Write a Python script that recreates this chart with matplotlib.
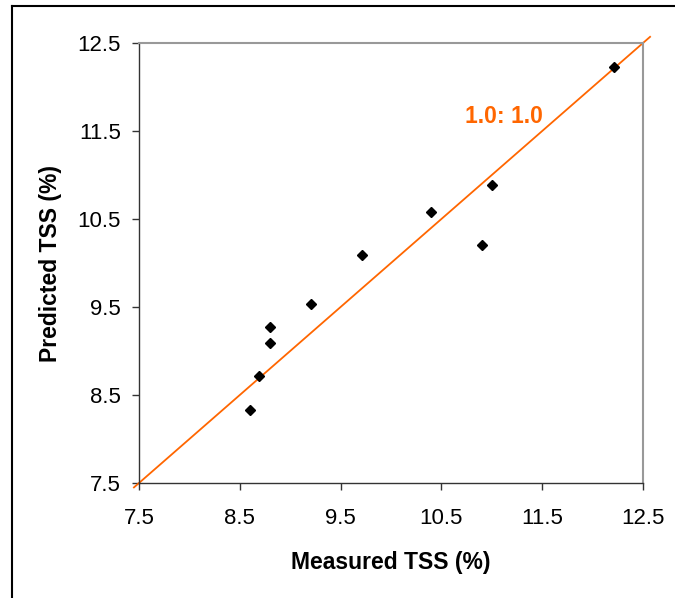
import matplotlib.pyplot as plt
from matplotlib.lines import Line2D

# measured vs predicted TSS (%)
measured = [8.60, 8.69, 8.80, 8.80, 9.21, 9.71, 10.40, 10.90, 11.00, 12.21]
predicted = [8.33, 8.72, 9.09, 9.27, 9.53, 10.09, 10.58, 10.21, 10.89, 12.23]
ticks = [7.5, 8.5, 9.5, 10.5, 11.5, 12.5]
ref_line = [7.45, 12.57]

plt.rcParams['font.family'] = ['Liberation Sans', 'DejaVu Sans']

fig = plt.figure(figsize=(6.75, 5.98), dpi=100)
ax = fig.add_axes([0.2059, 0.1923, 0.7467, 0.7358])

ax.plot(ref_line, ref_line, color='#ff6600', lw=1.3, clip_on=False, zorder=2)
ax.plot(measured, predicted, linestyle='None', marker='D', markersize=5.5,
        color='black', zorder=3)

ax.text(10.73, 11.66, '1.0: 1.0', color='#ff6600', fontsize=16.5,
        fontweight='bold', ha='left', va='center')

ax.set_xlim(7.5, 12.5)
ax.set_ylim(7.5, 12.5)
ax.set_xticks(ticks)
ax.set_yticks(ticks)
ax.set_xticklabels([f'{t:.1f}' for t in ticks])
ax.set_yticklabels([f'{t:.1f}' for t in ticks])
ax.tick_params(axis='both', direction='out', length=5, width=1,
               color='#333333', labelsize=16)
ax.tick_params(axis='x', pad=13)
ax.tick_params(axis='y', pad=8)

for side in ('left', 'bottom'):
    ax.spines[side].set_color('#333333')
    ax.spines[side].set_linewidth(1.0)
for side in ('top', 'right'):
    ax.spines[side].set_color('#999999')
    ax.spines[side].set_linewidth(1.5)

ax.set_xlabel('Measured TSS (%)', fontsize=16.5, fontweight='bold', labelpad=16)
ax.set_ylabel('Predicted TSS (%)', fontsize=16.5, fontweight='bold', labelpad=11)

# outer frame, only left and top edges show
fig.add_artist(Line2D([12 / 675, 12 / 675], [0, 1 - 6 / 598],
                      transform=fig.transFigure, color='black', lw=1.5))
fig.add_artist(Line2D([12 / 675, 1], [1 - 6 / 598, 1 - 6 / 598],
                      transform=fig.transFigure, color='black', lw=1.5))

fig.savefig('out.png', dpi=100)
